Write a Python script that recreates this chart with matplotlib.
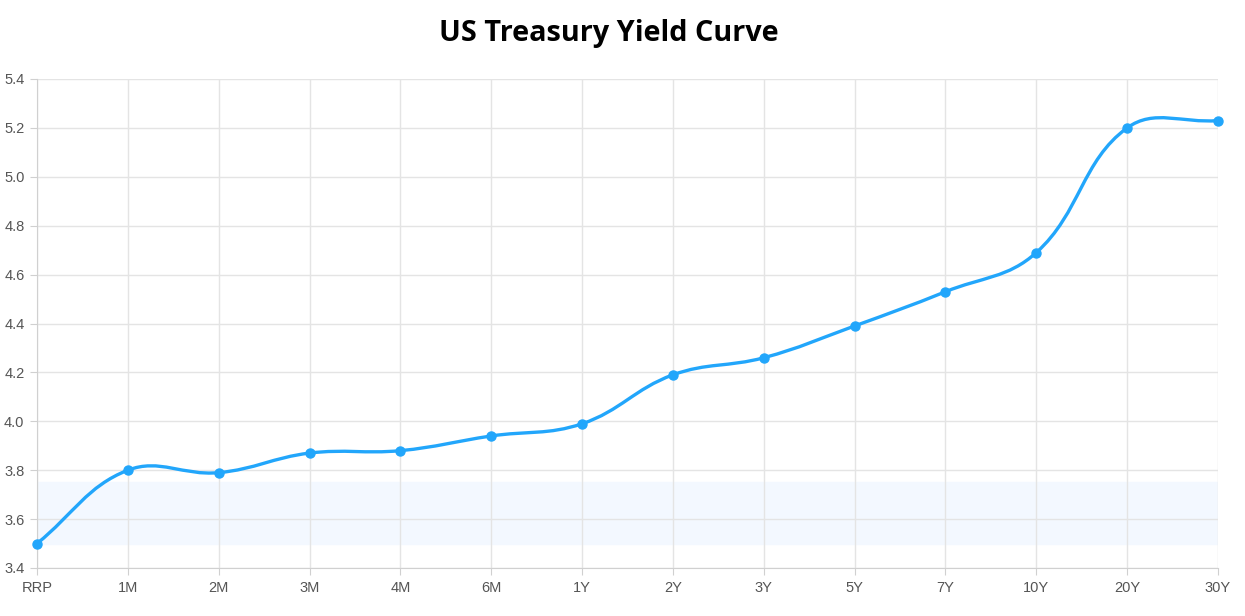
import numpy as np
import matplotlib.pyplot as plt
from matplotlib.path import Path
from matplotlib.patches import PathPatch

tenors = ['RRP', '1M', '2M', '3M', '4M', '6M', '1Y', '2Y', '3Y', '5Y', '7Y', '10Y', '20Y', '30Y']
yields = [3.50, 3.80, 3.79, 3.87, 3.88, 3.94, 3.99, 4.19, 4.26, 4.39, 4.53, 4.69, 5.20, 5.23]
band_low, band_high = 3.50, 3.75
yticks = [3.4, 3.6, 3.8, 4.0, 4.2, 4.4, 4.6, 4.8, 5.0, 5.2, 5.4]

line_color = '#22a6fb'
grid_color = '#e4e4e4'

fig = plt.figure(figsize=(12.45, 6.16), dpi=100)
ax = fig.add_axes([37 / 1245, 1 - 568 / 616, (1218 - 37) / 1245, (568 - 79) / 616])

x = np.arange(len(tenors))
ax.set_xlim(0, len(tenors) - 1)
ax.set_ylim(3.4, 5.4)

ax.axhspan(band_low, band_high, color='#f3f8ff', zorder=0)

ax.set_xticks(x)
ax.set_xticklabels(tenors)
ax.set_yticks(yticks)
ax.set_yticklabels(['%.1f' % v for v in yticks])
ax.grid(True, color=grid_color, linewidth=1, zorder=1)
ax.set_axisbelow(True)
for s in ['top', 'right']:
    ax.spines[s].set_visible(False)
for s in ['left', 'bottom']:
    ax.spines[s].set_color('#d0d0d0')
ax.tick_params(axis='both', colors='#d0d0d0', labelcolor='#555555', length=5,
               labelsize=10.5)
ax.tick_params(axis='x', pad=4)
ax.tick_params(axis='y', pad=4)
for lab in ax.get_xticklabels() + ax.get_yticklabels():
    lab.set_fontfamily('Liberation Sans')

# chart.js style bezier (tension 0.4) computed in pixel space
fig.canvas.draw()
pts = ax.transData.transform(np.column_stack([x, yields]))
t = 0.4
n = len(pts)
ctrl_prev = pts.copy()
ctrl_next = pts.copy()
for i in range(n):
    p0 = pts[i - 1] if i > 0 else pts[i]
    p1 = pts[i]
    p2 = pts[i + 1] if i < n - 1 else pts[i]
    d01 = np.hypot(*(p1 - p0))
    d12 = np.hypot(*(p2 - p1))
    s = d01 + d12
    fa = t * d01 / s
    fb = t * d12 / s
    ctrl_prev[i] = p1 - fa * (p2 - p0)
    ctrl_next[i] = p1 + fb * (p2 - p0)
verts = [pts[0]]
codes = [Path.MOVETO]
for i in range(n - 1):
    verts += [ctrl_next[i], ctrl_prev[i + 1], pts[i + 1]]
    codes += [Path.CURVE4] * 3
inv = ax.transData.inverted()
verts = inv.transform(np.array(verts))
ax.add_patch(PathPatch(Path(verts, codes), fill=False, edgecolor=line_color,
                       linewidth=2.4, zorder=3, clip_on=False))
ax.plot(x, yields, 'o', color=line_color, markersize=6.5, zorder=4, clip_on=False)

fig.text(609 / 1245, 1 - 34 / 616, 'US Treasury Yield Curve', ha='center', va='center',
         fontsize=20.8, fontweight='bold', family='Open Sans')

fig.savefig('out.png', dpi=100)
